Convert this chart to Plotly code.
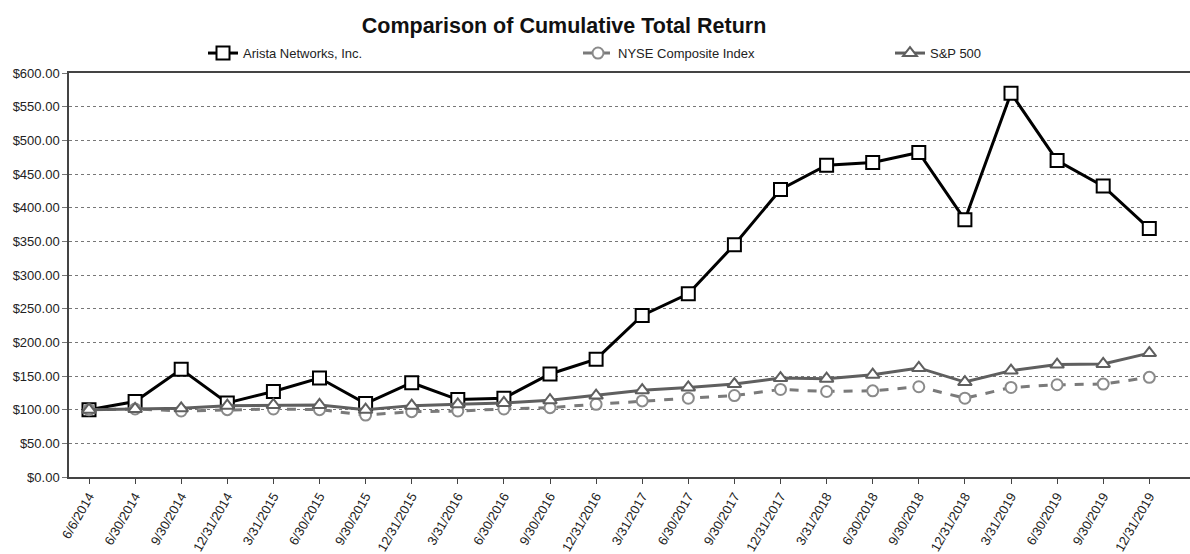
import plotly.graph_objects as go

dates = ["6/6/2014", "6/30/2014", "9/30/2014", "12/31/2014", "3/31/2015", "6/30/2015",
         "9/30/2015", "12/31/2015", "3/31/2016", "6/30/2016", "9/30/2016", "12/31/2016",
         "3/31/2017", "6/30/2017", "9/30/2017", "12/31/2017", "3/31/2018", "6/30/2018",
         "9/30/2018", "12/31/2018", "3/31/2019", "6/30/2019", "9/30/2019", "12/31/2019"]
arista = [100, 112, 160, 110, 127, 147, 109, 140, 115, 117, 153, 175,
          240, 272, 345, 427, 463, 467, 482, 382, 570, 470, 432, 369]
nyse = [100, 101, 98, 100, 101, 100, 92, 97, 98, 101, 103, 108,
        113, 117, 121, 130, 127, 128, 134, 117, 133, 137, 138, 148]
sp500 = [100, 101, 102, 106, 107, 107, 100, 106, 108, 110, 114, 121,
         129, 133, 138, 147, 146, 152, 162, 141, 158, 167, 168, 184]

y_ticks = [0, 50, 100, 150, 200, 250, 300, 350, 400, 450, 500, 550, 600]
y_labels = ["$%.2f" % v for v in y_ticks]

xi = list(range(len(dates)))
FONT = "Liberation Sans, Arial, sans-serif"

fig = go.Figure()
fig.add_trace(go.Scatter(
    x=xi, y=arista, name="Arista Networks, Inc.", mode="lines+markers",
    line=dict(color="#000000", width=3),
    marker=dict(symbol="square", size=13, color="white", line=dict(color="#000000", width=2)),
    legend="legend"))
fig.add_trace(go.Scatter(
    x=xi, y=nyse, name="NYSE Composite Index", mode="lines+markers",
    line=dict(color="#7a7a7a", width=3, dash="dash"),
    marker=dict(symbol="circle", size=11, color="white", line=dict(color="#8a8a8a", width=2)),
    legend="legend2"))
fig.add_trace(go.Scatter(
    x=xi, y=sp500, name="S&P 500", mode="lines+markers",
    line=dict(color="#5f5f5f", width=3),
    marker=dict(symbol="triangle-up", size=12, color="white", line=dict(color="#5f5f5f", width=2)),
    legend="legend3"))

W, H = 1190, 554
L, T, B = 69, 73, 75
pw = W - L
x0px, dx = 89.0, 46.1
rng = [(L - x0px) / dx, (W - x0px) / dx]

def lx(px):
    return (px - L) / pw

leg_common = dict(orientation="h", yanchor="middle", xanchor="left",
                  bgcolor="rgba(0,0,0,0)", font=dict(family=FONT, size=13, color="#222"),
                  itemwidth=30, tracegroupgap=0)
ly = 1 + (T - 53) / (H - T - B)

fig.update_layout(
    width=W, height=H,
    margin=dict(l=L, r=0, t=T, b=B),
    paper_bgcolor="white", plot_bgcolor="white",
    title=dict(text="<b>Comparison of Cumulative Total Return</b>", x=564 / W, xanchor="center",
               y=1 - 25 / H, yanchor="middle", font=dict(family=FONT, size=21.5, color="#111")),
    legend=dict(x=lx(203), y=ly, **leg_common),
    legend2=dict(x=lx(578), y=ly, **leg_common),
    legend3=dict(x=lx(890), y=ly, **leg_common),
    xaxis=dict(range=rng, tickmode="array", tickvals=xi, ticktext=dates, tickangle=-60,
               showgrid=False, zeroline=False, showline=True, linecolor="#444", linewidth=1.5,
               mirror=True, ticks="outside", ticklen=5, tickcolor="#444",
               tickfont=dict(family=FONT, size=13, color="#222")),
    yaxis=dict(range=[0, 600], tickmode="array", tickvals=y_ticks, ticktext=y_labels,
               showgrid=True, gridcolor="#777", griddash="dot", gridwidth=1,
               zeroline=False, showline=True, linecolor="#444", linewidth=1.5,
               ticks="outside", ticklen=5, tickcolor="#777",
               tickfont=dict(family=FONT, size=13, color="#222")),
    showlegend=True,
)

fig.write_html("out.html")
